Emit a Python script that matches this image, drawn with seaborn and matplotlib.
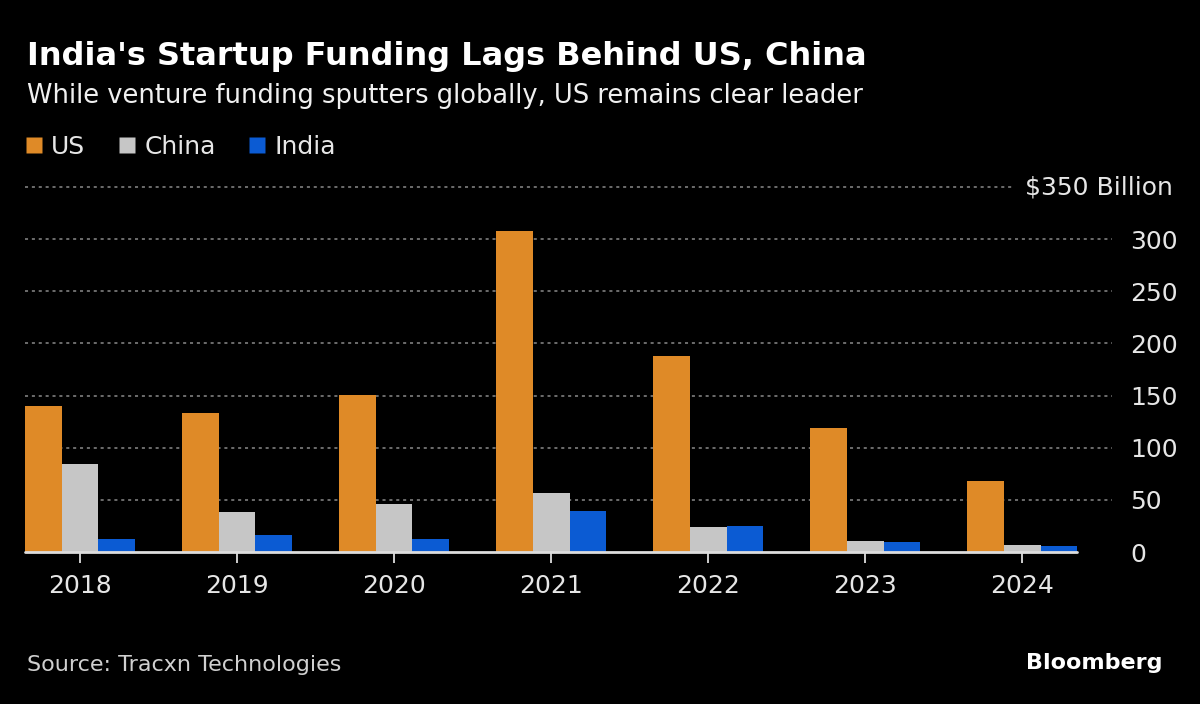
import matplotlib
matplotlib.use("Agg")
import matplotlib.pyplot as plt
from matplotlib.lines import Line2D
import seaborn as sns
import pandas as pd

years = ["2018", "2019", "2020", "2021", "2022", "2023", "2024"]
us = [140, 133, 151, 308, 188, 119, 68]
china = [84, 38, 46, 57, 24, 11, 7]
india = [12, 16, 12, 39, 25, 10, 6]
series = ["US", "China", "India"]
colors = ["#df8a27", "#c6c6c6", "#0b5bd3"]
yticks = [0, 50, 100, 150, 200, 250, 300, 350]

df = pd.DataFrame({
    "year": years * 3,
    "value": us + china + india,
    "series": ["US"] * 7 + ["China"] * 7 + ["India"] * 7,
})

sns.set_style("dark")
plt.rcParams["font.family"] = ["DejaVu Sans"]

fig = plt.figure(figsize=(12, 7.04), dpi=100, facecolor="black")
ax = fig.add_axes([25 / 1200, 1 - 552 / 704, (1112 - 25) / 1200, (552 - 187) / 704])
ax.set_facecolor("black")

sns.barplot(data=df, x="year", y="value", hue="series", hue_order=series,
            palette=colors, width=0.7, saturation=1, ax=ax, legend=False,
            edgecolor="none", linewidth=0)

ax.set_xlim(-0.35, 6.57)
ax.set_ylim(0, 350)

# dotted gridlines
ax.hlines(yticks[1:-1], -0.35, 6.57, colors="#8a8a8a", linestyles=(0, (2, 2.5)),
          linewidth=1.1, zorder=0)
ax.hlines([350], -0.35, 5.94, colors="#8a8a8a", linestyles=(0, (2, 2.5)),
          linewidth=1.1, zorder=0, clip_on=False)
# baseline
ax.plot([-0.35, 6.35], [0, 0], color="#dddddd", lw=2, zorder=5, clip_on=False)

for s in ax.spines.values():
    s.set_visible(False)

ax.set_xlabel("")
ax.set_ylabel("")
ax.tick_params(axis="x", bottom=True, colors="#dddddd", length=8, width=1.3, pad=8,
               labelsize=18, labelcolor="#e6e6e6")
ax.yaxis.tick_right()
ax.set_yticks(yticks)
ax.set_yticklabels([str(v) for v in yticks[:-1]] + [""])
ax.tick_params(axis="y", length=0, pad=13, labelsize=18, labelcolor="#e6e6e6")

fig.text(1173 / 1200, 1 - 187 / 704, "$350 Billion", ha="right", va="center",
         color="#e6e6e6", fontsize=18)

# titles
fig.text(27 / 1200, 1 - 57 / 704, "India's Startup Funding Lags Behind US, China",
         color="white", fontsize=23, fontweight="bold", va="center")
fig.text(27 / 1200, 1 - 96 / 704,
         "While venture funding sputters globally, US remains clear leader",
         color="#f0f0f0", fontsize=18.5, va="center")

# legend
handles = [Line2D([], [], marker="s", linestyle="none", markersize=11,
                  markerfacecolor=c, markeredgecolor="none") for c in colors]
fig.legend(handles, series, loc="center left", bbox_to_anchor=(25 / 1200, 1 - 147 / 704),
           ncol=3, frameon=False, fontsize=18, labelcolor="#e6e6e6",
           handlelength=0.7, handletextpad=0.35, columnspacing=1.3,
           borderpad=0, borderaxespad=0)

fig.text(27 / 1200, 1 - 665 / 704, "Source: Tracxn Technologies", color="#d0d0d0",
         fontsize=16, va="center")
fig.text(1163 / 1200, 1 - 663 / 704, "Bloomberg", color="white", fontsize=16,
         fontweight="bold", ha="right", va="center")

fig.savefig("out.png", dpi=100, facecolor="black")
